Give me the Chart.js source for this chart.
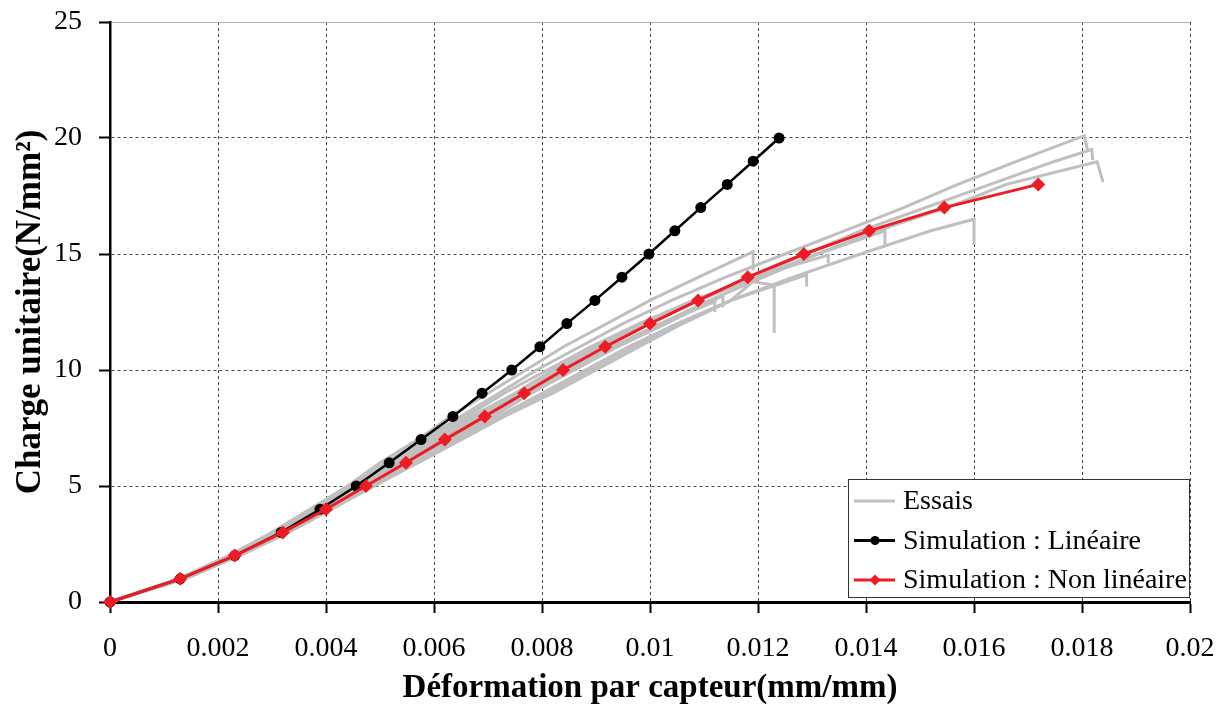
<!DOCTYPE html>
<html lang="fr">
<head>
<meta charset="utf-8">
<title>Charge unitaire vs déformation</title>
<script src="https://cdn.jsdelivr.net/npm/chart.js@4.4.1/dist/chart.umd.min.js"></script>
<style>
  html, body { margin: 0; padding: 0; background: #fff; }
  #wrap { width: 1228px; height: 708px; position: relative; }
</style>
</head>
<body>
<div id="wrap"><canvas id="chart"></canvas></div>
<script>
// Simulation : Linéaire (déformation / charge)
const linX = [0, 0.0013, 0.00231, 0.00317, 0.00389, 0.00456, 0.00517, 0.00576, 0.00635, 0.00689, 0.00744,
  0.00796, 0.00846, 0.00898, 0.00948, 0.00998, 0.01046, 0.01094, 0.01143, 0.01191, 0.01239];
const linY = [0, 1, 2, 3, 4, 5, 6, 7, 8, 9, 10, 11, 12, 13, 14, 15, 16, 17, 18, 19, 20];

// Simulation : Non linéaire
const nonLinX = [0, 0.0013, 0.00231, 0.0032, 0.004, 0.00474, 0.00548, 0.0062, 0.00694, 0.00767, 0.00839,
  0.00917, 0.01, 0.01089, 0.01181, 0.01285, 0.01406, 0.01545, 0.01719];
const nonLinY = [0, 1, 2, 3, 4, 5, 6, 7, 8, 9, 10, 11, 12, 13, 14, 15, 16, 17, 18];

// Essais (one x list and one y list per specimen)
const essaisX = [
  [0, 0.00125, 0.0022, 0.0030, 0.0037, 0.0044, 0.0050, 0.0057, 0.0063, 0.0070, 0.0077, 0.0084, 0.0092, 0.0100, 0.0109, 0.01191, 0.01191],
  [0, 0.00128, 0.00225, 0.00305, 0.00375, 0.00445, 0.0051, 0.0058, 0.0065, 0.0072, 0.0079, 0.0087, 0.0095, 0.0104, 0.0114, 0.0125, 0.0136, 0.0147, 0.0157, 0.0168, 0.01804, 0.0181],
  [0, 0.0013, 0.0023, 0.0031, 0.0038, 0.0045, 0.0052, 0.0059, 0.0066, 0.0073, 0.0081, 0.0089, 0.0098, 0.0108, 0.0119, 0.0133, 0.0133],
  [0, 0.0013, 0.0023, 0.0031, 0.00385, 0.00455, 0.0053, 0.0060, 0.0067, 0.0075, 0.0082, 0.0090, 0.0099, 0.0109, 0.0120, 0.0131, 0.01435, 0.01435],
  [0, 0.0013, 0.0023, 0.00315, 0.0039, 0.0046, 0.0053, 0.0061, 0.0068, 0.0076, 0.0083, 0.0091, 0.0100, 0.0109, 0.0119, 0.0129, 0.0139, 0.0151, 0.0163, 0.0175, 0.01818, 0.0182],
  [0, 0.0013, 0.00232, 0.0032, 0.0039, 0.0046, 0.0054, 0.0062, 0.0069, 0.0077, 0.0084, 0.0093, 0.0102, 0.0112, 0.0112],
  [0, 0.00132, 0.00235, 0.0032, 0.00395, 0.0047, 0.0054, 0.0062, 0.0070, 0.0077, 0.0085, 0.0093, 0.0102, 0.0111, 0.0121, 0.0131, 0.0142, 0.0155, 0.0166, 0.01828, 0.01839],
  [0, 0.00133, 0.00235, 0.0032, 0.0040, 0.0047, 0.0055, 0.0063, 0.0071, 0.0078, 0.0086, 0.0094, 0.0103, 0.01135, 0.01135],
  [0, 0.00135, 0.0024, 0.00325, 0.0040, 0.0048, 0.0056, 0.0064, 0.0072, 0.0080, 0.0088, 0.0096, 0.0105, 0.0115, 0.0129, 0.0129],
  [0, 0.00135, 0.0024, 0.0033, 0.0041, 0.0048, 0.0057, 0.0065, 0.0073, 0.0081, 0.0089, 0.0097, 0.0106, 0.0115, 0.0119, 0.0123, 0.0123],
  [0, 0.0014, 0.0024, 0.0033, 0.0041, 0.0049, 0.0057, 0.0065, 0.0073, 0.0082, 0.0090, 0.0098, 0.0106, 0.0115, 0.01265, 0.0139, 0.0152, 0.0160, 0.0160]
];
const essaisY = [
  [0, 1, 2, 3, 4, 5, 6, 7, 8, 9, 10, 11, 12, 13, 14, 15.1, 14.3],
  [0, 1, 2, 3, 4, 5, 6, 7, 8, 9, 10, 11, 12, 13, 14, 15, 16, 17, 18, 19, 20.1, 19.5],
  [0, 1, 2, 3, 4, 5, 6, 7, 8, 9, 10, 11, 12, 13, 14, 14.95, 14.6],
  [0, 1, 2, 3, 4, 5, 6, 7, 8, 9, 10, 11, 12, 13, 14, 15, 16, 15.4],
  [0, 1, 2, 3, 4, 5, 6, 7, 8, 9, 10, 11, 12, 13, 14, 15, 16, 17, 18, 19, 19.5, 19.05],
  [0, 1, 2, 3, 4, 5, 6, 7, 8, 9, 10, 11, 12, 12.95, 12.5],
  [0, 1, 2, 3, 4, 5, 6, 7, 8, 9, 10, 11, 12, 13, 14, 15, 16, 17, 18, 18.97, 18.1],
  [0, 1, 2, 3, 4, 5, 6, 7, 8, 9, 10, 11, 12, 13.2, 12.7],
  [0, 1, 2, 3, 4, 5, 6, 7, 8, 9, 10, 11, 12, 13, 14.1, 13.6],
  [0, 1, 2, 3, 4, 5, 6, 7, 8, 9, 10, 11, 12, 13, 13.8, 13.66, 11.6],
  [0, 1, 2, 3, 4, 5, 6, 7, 8, 9, 10, 11, 12, 13, 14, 15, 16, 16.5, 15.4]
];

const legendLabels = ['Essais', 'Simulation : Linéaire', 'Simulation : Non linéaire'];
const xTitle = 'Déformation par capteur(mm/mm)';
const yTitle = 'Charge unitaire(N/mm²)';

const SERIF = '"Liberation Serif", "Times New Roman", serif';
const GRAY = '#bfbfbf', RED = '#ed1c24';

const pts = (xs, ys) => xs.map((x, i) => ({ x: x, y: ys[i] }));

const datasets = [
  { label: legendLabels[2], data: pts(nonLinX, nonLinY), borderColor: RED, backgroundColor: RED,
    borderWidth: 3, pointStyle: 'rectRot', pointRadius: 7, pointBorderWidth: 0, order: 0 },
  { label: legendLabels[1], data: pts(linX, linY), borderColor: '#000', backgroundColor: '#000',
    borderWidth: 2.5, pointStyle: 'circle', pointRadius: 5.5, pointBorderWidth: 0, order: 1 }
];
essaisX.forEach((xs, i) => {
  datasets.push({ label: legendLabels[0], data: pts(xs, essaisY[i]), borderColor: GRAY,
    borderWidth: 3, pointRadius: 0, order: 2 });
});
datasets.forEach(d => { d.showLine = true; d.tension = 0; d.clip = false; });

// boxed legend drawn inside the plot, bottom right
const boxLegend = {
  id: 'boxLegend',
  afterDatasetsDraw(chart) {
    const ctx = chart.ctx, a = chart.chartArea;
    const x0 = a.right - 342, y0 = a.bottom - 123, w = 342, h = 119;
    ctx.save();
    ctx.fillStyle = '#fff';
    ctx.fillRect(x0, y0, w, h);
    ctx.strokeStyle = '#333';
    ctx.lineWidth = 1;
    ctx.strokeRect(x0 + 0.5, y0 + 0.5, w - 1, h - 1);
    const rows = [
      { text: legendLabels[0], color: GRAY, lw: 3, mark: null },
      { text: legendLabels[1], color: '#000', lw: 3, mark: 'circle' },
      { text: legendLabels[2], color: RED, lw: 3, mark: 'diamond' }
    ];
    rows.forEach((r, i) => {
      const y = y0 + 22 + i * 39.5;
      ctx.strokeStyle = r.color;
      ctx.lineWidth = r.lw;
      ctx.beginPath();
      ctx.moveTo(x0 + 6, y);
      ctx.lineTo(x0 + 47, y);
      ctx.stroke();
      ctx.fillStyle = r.color;
      const cx = x0 + 27;
      if (r.mark === 'circle') {
        ctx.beginPath(); ctx.arc(cx, y, 4.5, 0, Math.PI * 2); ctx.fill();
      } else if (r.mark === 'diamond') {
        ctx.beginPath();
        ctx.moveTo(cx, y - 5.5); ctx.lineTo(cx + 5.5, y); ctx.lineTo(cx, y + 5.5); ctx.lineTo(cx - 5.5, y);
        ctx.closePath(); ctx.fill();
      }
      ctx.fillStyle = '#000';
      ctx.font = '28px ' + SERIF;
      ctx.textBaseline = 'middle';
      ctx.textAlign = 'left';
      ctx.fillText(r.text, x0 + 55, y + 1);
    });
    ctx.restore();
  }
};

new Chart(document.getElementById('chart'), {
  type: 'scatter',
  data: { datasets: datasets },
  plugins: [boxLegend],
  options: {
    responsive: true,
    maintainAspectRatio: false,
    animation: false,
    layout: { padding: { top: 22, right: 38, bottom: 0, left: 0 } },
    plugins: { legend: { display: false }, tooltip: { enabled: false } },
    scales: {
      x: {
        type: 'linear', min: 0, max: 0.02,
        afterFit: s => { s.height = 106; s.paddingLeft = 0; s.paddingRight = 0; },
        ticks: { stepSize: 0.002, color: '#000', padding: 19, maxRotation: 0, autoSkip: false,
          font: { family: SERIF, size: 28 }, callback: v => String(parseFloat(v.toFixed(4))) },
        grid: { color: '#444', lineWidth: 1, tickLength: 11, tickColor: '#000', tickWidth: 2 },
        border: { color: '#000', width: 3, dash: [3, 3] },
        title: { display: true, text: xTitle, color: '#000', padding: { top: 0, bottom: 0 },
          font: { family: SERIF, size: 33, weight: 'bold' } }
      },
      y: {
        type: 'linear', min: 0, max: 25,
        afterFit: s => { s.width = 110; s.paddingTop = 0; s.paddingBottom = 0; },
        ticks: { stepSize: 5, color: '#000', padding: 17, font: { family: SERIF, size: 28 } },
        grid: { color: c => (c.tick && c.tick.value === 25 ? '#b0b0b0' : '#444'), lineWidth: 1,
          tickLength: 11, tickColor: '#000', tickWidth: 2 },
        border: { color: '#000', width: 2.5, dash: c => (c.tick && c.tick.value === 25 ? [] : [3, 3]) },
        title: { display: true, text: yTitle, color: '#000', padding: { top: 10, bottom: 0 },
          font: { family: SERIF, size: 35, weight: 'bold' } }
      }
    }
  }
});
</script>
</body>
</html>
